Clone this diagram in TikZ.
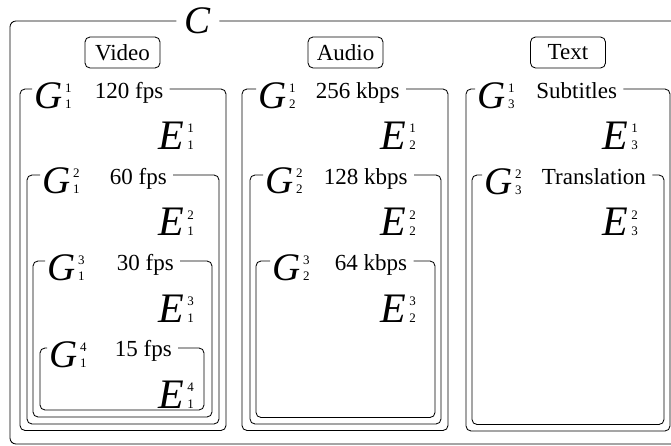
\documentclass[tikz,border=0pt]{standalone}
\usepackage{fontspec}
\setmainfont{Liberation Serif}
\usepackage{xcolor}
\newcommand{\gsym}[3]{{\fontsize{39}{39}\selectfont\itshape #1}\hspace{2.5pt}{\fontsize{13}{13}\selectfont\rlap{\raisebox{16pt}{#2}}#3}}
\newcommand{\esym}[3]{{\fontsize{42}{42}\selectfont\itshape #1}\hspace{3pt}{\fontsize{13}{13}\selectfont\rlap{\raisebox{17pt}{#2}}#3}}
\newcommand{\openframe}[4]{\draw[frame] (#3.east |- #1) -- (#2 |- #1) -- (#2) -- (#1 |- #2) -- (#1) -- (#4.west |- #1);}

\begin{document}
\begin{tikzpicture}[x=1pt, y=-1pt, line width=0.85pt,
  every node/.style={font=\fontsize{23}{26}\selectfont},
  head/.style={draw, rounded corners=5pt, minimum width=75pt, minimum height=31pt, inner sep=2pt},
  gname/.style={anchor=base west, inner sep=2pt},
  rate/.style={anchor=base west, inner xsep=6pt, inner ysep=0pt},
  ename/.style={anchor=base west, inner sep=0pt},
  frame/.style={rounded corners=5pt}]
\clip (0,0) rectangle (671,446);
% Set C
\node[anchor=base west, inner xsep=8pt, font=\fontsize{39}{39}\selectfont\itshape] (cset) at (176.4,33.5) {C};
\coordinate (cnw) at (10,21);
\coordinate (cse) at (690,444);
\draw[rounded corners=6pt] (cset.east |- cnw) -- (cse |- cnw) -- (cse) -- (cnw |- cse) -- (cnw) -- (cset.west |- cnw);
% Column heads
\node[head] (video) at (122.5,52.5) {Video};
\node[head] (audio) at (345.5,52.5) {Audio};
\node[head] (text) at (568,52.5) {Text};
% Video
\coordinate (f11nw) at (20,89);  \coordinate (f11se) at (226,430.5);
\coordinate (f12nw) at (27,175); \coordinate (f12se) at (219,424);
\coordinate (f13nw) at (33,261); \coordinate (f13se) at (212,417);
\coordinate (f14nw) at (40,348); \coordinate (f14se) at (204,410);
\node[gname] (g11) at (32,108.5) {\gsym{G}{1}{1}};
\node[rate] (r11) at (88.5,98.5) {120 fps};
\node[ename] (e11) at (158.3,150) {\esym{E}{1}{1}};
\node[gname] (g12) at (40,194) {\gsym{G}{2}{1}};
\node[rate] (r12) at (103.5,184.5) {60 fps};
\node[ename] (e12) at (158.3,236) {\esym{E}{2}{1}};
\node[gname] (g13) at (45,280.5) {\gsym{G}{3}{1}};
\node[rate] (r13) at (110.5,270.5) {30 fps};
\node[ename] (e13) at (158.3,322) {\esym{E}{3}{1}};
\node[gname] (g14) at (47,367) {\gsym{G}{4}{1}};
\node[rate] (r14) at (108.5,356) {15 fps};
\node[ename] (e14) at (158.3,408) {\esym{E}{4}{1}};
\openframe{f11nw}{f11se}{r11}{g11}
\openframe{f12nw}{f12se}{r12}{g12}
\openframe{f13nw}{f13se}{r13}{g13}
\openframe{f14nw}{f14se}{r14}{g14}
% Audio
\coordinate (f21nw) at (242,89);  \coordinate (f21se) at (448,430.5);
\coordinate (f22nw) at (250,175); \coordinate (f22se) at (441,424);
\coordinate (f23nw) at (256,261); \coordinate (f23se) at (435,417.5);
\node[gname] (g21) at (256,108.5) {\gsym{G}{1}{2}};
\node[rate] (r21) at (309.5,98.5) {256 kbps};
\node[ename] (e21) at (380.3,150) {\esym{E}{1}{2}};
\node[gname] (g22) at (263,194) {\gsym{G}{2}{2}};
\node[rate] (r22) at (317.5,184.5) {128 kbps};
\node[ename] (e22) at (380.3,236) {\esym{E}{2}{2}};
\node[gname] (g23) at (270,280) {\gsym{G}{3}{2}};
\node[rate] (r23) at (328.5,270.5) {64 kbps};
\node[ename] (e23) at (380.3,322) {\esym{E}{3}{2}};
\openframe{f21nw}{f21se}{r21}{g21}
\openframe{f22nw}{f22se}{r22}{g22}
\openframe{f23nw}{f23se}{r23}{g23}
% Text
\coordinate (f31nw) at (466,89);  \coordinate (f31se) at (670,431);
\coordinate (f32nw) at (472,175); \coordinate (f32se) at (664,424.5);
\node[gname] (g31) at (475,108.5) {\gsym{G}{1}{3}};
\node[rate] (r31) at (530,98.5) {Subtitles};
\node[ename] (e31) at (602.3,150) {\esym{E}{1}{3}};
\node[gname] (g32) at (482,195) {\gsym{G}{2}{3}};
\node[rate] (r32) at (535.5,184.5) {Translation};
\node[ename] (e32) at (602.3,236) {\esym{E}{2}{3}};
\openframe{f31nw}{f31se}{r31}{g31}
\openframe{f32nw}{f32se}{r32}{g32}
\end{tikzpicture}
\end{document}
